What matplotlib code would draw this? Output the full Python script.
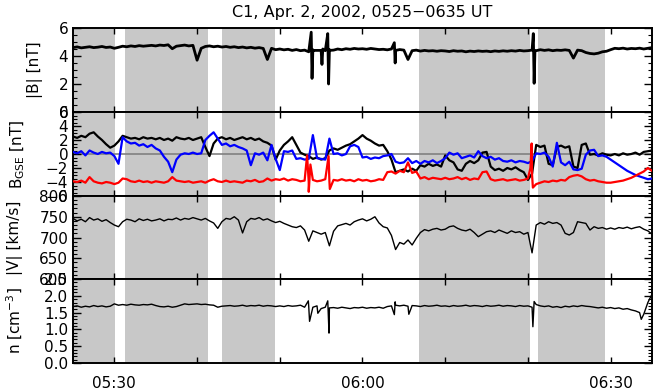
import numpy as np
import matplotlib
matplotlib.use("Agg")
import matplotlib.pyplot as plt
from matplotlib.ticker import MultipleLocator, FixedLocator, FuncFormatter

# time in minutes after 05:00, half-minute samples from 05:25 to 06:35
t_grid = 25 + 0.5 * np.arange(141)

# shaded intervals (minutes after 05:00)
shade_start = [25.0, 31.3, 43.0, 66.8, 81.2]
shade_end = [30.1, 41.3, 49.4, 80.3, 89.3]

bmag = [4.60, 4.65, 4.58, 4.62, 4.66, 4.60, 4.63, 4.68, 4.61, 4.64,
        4.55, 4.62, 4.70, 4.66, 4.72, 4.68, 4.74, 4.70, 4.73, 4.76,
        4.72, 4.78, 4.75, 4.80, 4.52, 4.70, 4.74, 4.78, 4.72, 4.76,
        3.70, 4.55, 4.68, 4.72, 4.66, 4.70, 4.64, 4.68, 4.62, 4.66,
        4.60, 4.64, 4.58, 4.62, 4.56, 4.60, 4.54, 3.75, 4.55, 4.45,
        4.50, 4.44, 4.48, 4.40, 4.46, 4.38, 4.42, 4.30, 4.45, 4.40,
        4.40, 4.38, 4.46, 4.42, 4.50, 4.45, 4.52, 4.48, 4.54, 4.50,
        4.52, 4.48, 4.54, 4.50, 4.46, 4.48, 4.44, 4.50, 4.40, 4.46,
        4.42, 3.75, 4.38, 4.42, 4.35, 4.40, 4.36, 4.38, 4.34, 4.38,
        4.36, 4.32, 4.38, 4.34, 4.36, 4.30, 4.35, 4.32, 4.36, 4.33,
        4.35, 4.31, 4.36, 4.33, 4.37, 4.34, 4.38, 4.35, 4.40, 4.36,
        4.38, 4.42, 4.38, 4.45, 4.40, 4.44, 4.38, 4.42, 4.40, 4.44,
        4.40, 3.85, 4.42, 4.38, 4.25, 4.18, 4.15, 4.20, 4.30, 4.34,
        4.45, 4.55, 4.52, 4.56, 4.50, 4.54, 4.52, 4.56, 4.50, 4.55,
        4.60]
bmag_spike_t = [53.8, 53.9, 54.0, 55.1, 55.2, 55.8, 55.9, 56.0, 63.85, 63.95, 80.65, 80.75, 80.85]
bmag_spike_v = [5.7, 2.4, 4.4, 3.4, 4.5, 5.6, 2.0, 4.4, 4.95, 3.5, 5.6, 2.05, 4.4]

bx = [2.5, 2.3, 2.6, 2.4, 2.9, 3.1, 2.5, 2.0, 1.4, 0.9,
      1.2, 1.8, 2.6, 2.4, 2.2, 2.3, 2.1, 2.4, 2.2, 2.3,
      2.1, 2.3, 2.0, 2.2, 1.9, 2.4, 2.2, 2.1, 2.3, 2.0,
      2.2, 2.4, 1.0, -0.3, 1.5, 2.2, 2.4, 2.1, 2.3, 2.0,
      2.2, 2.4, 2.1, 2.3, 2.0, 2.2, 1.8, 1.6, 1.2, -0.8,
      0.5, 1.3, 1.8, 2.4, 1.3, 0.2, -0.1, -0.3, -0.7, -0.5,
      -0.8, -0.6, 0.5, 0.8, 0.6, 0.9, 1.2, 1.4, 1.8, 2.2,
      2.7, 2.2, 1.9, 1.5, 1.2, 1.3, 0.4, -0.8, -2.6, -2.4,
      -2.2, -2.5, -2.1, -2.4, -1.6, -1.8, -1.4, -1.7, -1.5, -1.8,
      -0.2, -0.9, -1.2, -2.2, -2.4, -1.4, -1.0, -1.3, -0.9, 0.2,
      0.3, -1.8, -2.3, -2.1, -2.4, -2.0, -2.2, -1.9, -2.3, -2.6,
      -3.7, -2.8, 1.3, 1.0, 1.2, -1.4, -1.6, 1.0, 1.2, 0.9,
      1.1, -1.8, -2.0, 1.3, 1.5, -0.1, 0.0, -0.2, 0.1, -0.1,
      -0.2, 0.0, -0.2, 0.1, -0.1, 0.0, 0.2, -0.1, 0.3, 0.4,
      0.5]

by = [0.3, 0.1, 0.4, -0.2, 0.5, 0.2, 0.0, 0.3, 0.1, 0.2,
      -0.3, -1.4, 2.4, 1.8, 1.5, 1.6, 1.2, 1.4, 1.0, 1.3,
      0.8, 0.5, -0.4, -1.1, -2.6, -0.8, -0.1, 0.1, 0.0, 0.2,
      0.0, 0.1, 2.0, 2.6, 3.1, 2.2, 1.3, 1.5, 1.1, 1.3,
      1.0, 0.8, 0.5, -1.6, 0.1, -0.1, 0.2, -0.9, 1.3, -0.7,
      -2.3, 0.4, 0.3, 0.5, -0.7, -0.6, -0.8, -0.7, 2.7, -0.6,
      -0.7, -0.8, 2.2, 0.0, 0.1, -0.2, 0.0, 1.1, 1.3, 1.0,
      -0.5, -0.4, -0.7, -0.5, -0.6, -0.3, -0.2, 0.0, -1.1, -1.3,
      -1.2, -0.6, -1.3, -1.0, -1.4, -1.0, -1.2, -0.9, -1.3, -1.0,
      -0.6, 0.2, -0.1, 0.1, -0.6, -0.4, -0.2, -0.5, 0.4, -0.3,
      -0.6, -0.4, -0.8, -0.6, -1.0, -1.1, -0.9, -1.2, -1.0, -1.1,
      -1.3, -1.0, 0.1, 0.0, 0.2, -0.4, -1.8, 1.6, -1.2, -1.6,
      -1.1, -2.2, -2.3, -2.1, -0.1, 0.5, 0.6, -0.3, -0.2, -0.4,
      -0.8, -1.2, -1.6, -2.0, -2.4, -2.7, -3.0, -3.2, -3.4, -3.6,
      -3.5]

bz = [-3.9, -4.0, -3.8, -4.1, -3.3, -3.9, -4.1, -4.2, -4.0, -4.1,
      -4.3, -4.1, -3.5, -3.6, -3.9, -4.0, -3.8, -4.0, -3.9, -4.1,
      -3.9, -4.0, -4.1, -3.9, -3.3, -3.8, -3.9, -4.0, -3.9, -4.1,
      -4.0, -3.9, -4.1, -3.8, -3.6, -3.9, -4.0, -3.8, -4.0, -3.9,
      -4.0, -4.1, -3.8, -3.9, -3.7, -4.0, -3.9, -3.5, -3.8, -3.6,
      -3.7, -3.5, -3.8, -3.6, -3.7, -3.9, -3.8, -4.0, -3.7, -3.9,
      -3.8, -3.6, -3.9, -3.7, -3.8, -3.6, -3.8, -3.7, -3.9, -3.6,
      -3.8, -3.7, -3.9, -3.8, -3.6, -3.7, -2.6, -2.5, -2.8, -2.4,
      -2.6, -1.2, -2.7, -2.5, -3.5, -3.3, -3.6, -3.4, -3.5, -3.6,
      -3.4, -3.6, -3.5, -3.3, -3.6, -3.4, -3.7, -3.5, -3.6, -2.6,
      -2.5, -3.6, -3.8, -3.7, -3.6, -3.8, -3.7, -3.6, -3.8, -3.7,
      -3.5, -3.0, -4.3, -4.1, -3.9, -4.0, -3.8, -3.9, -3.7, -3.8,
      -3.3, -3.1, -3.0, -3.2, -3.6, -3.8, -3.7, -3.9, -4.0, -4.1,
      -4.1, -4.0, -3.9, -3.8, -3.6, -3.4, -3.1, -2.8, -2.5, -2.0,
      -2.4]
bz_spike_t = [53.3, 53.5, 53.7, 55.9, 56.05, 80.3, 80.45, 80.6]
bz_spike_v = [-0.2, -5.4, -1.5, -0.3, -5.0, -2.0, 1.5, -4.8]

vmag = [746, 740, 744, 738, 748, 742, 745, 739, 743, 736,
        730, 726, 738, 744, 742, 738, 745, 741, 744, 740,
        742, 745, 740, 744, 743, 747, 742, 746, 744, 748,
        745, 742, 746, 740, 735, 722, 738, 746, 744, 750,
        742, 711, 738, 746, 744, 748, 742, 745, 740, 736,
        739, 734, 730, 726, 724, 728, 718, 691, 716, 712,
        708, 712, 680, 715, 728, 731, 734, 730, 738, 742,
        745, 740, 744, 750, 735, 726, 723, 705, 671, 688,
        684, 694, 682, 698, 712, 719, 716, 720, 722, 718,
        720, 726, 728, 722, 718, 716, 720, 712, 702, 708,
        714, 716, 712, 718, 714, 710, 716, 712, 714, 708,
        712, 663, 730, 736, 732, 738, 734, 736, 730, 710,
        706, 712, 738, 736, 734, 718, 726, 722, 724, 720,
        723, 720, 724, 722, 725, 721, 724, 726, 720, 716,
        708]

dens = [1.68, 1.70, 1.66, 1.69, 1.67, 1.71, 1.68, 1.70, 1.67, 1.69,
        1.76, 1.72, 1.74, 1.72, 1.75, 1.73, 1.72, 1.74, 1.73, 1.75,
        1.71, 1.68, 1.67, 1.69, 1.66, 1.68, 1.72, 1.76, 1.74, 1.75,
        1.76, 1.74, 1.75, 1.73, 1.72, 1.66, 1.69, 1.70, 1.71, 1.69,
        1.70, 1.72, 1.69, 1.71, 1.70, 1.72, 1.69, 1.71, 1.70, 1.68,
        1.70, 1.68, 1.71, 1.69, 1.70, 1.72, 1.66, 1.68, 1.66, 1.70,
        1.62, 1.66, 1.64, 1.65, 1.63, 1.66, 1.64, 1.62, 1.65, 1.64,
        1.66, 1.63, 1.65, 1.64, 1.66, 1.63, 1.68, 1.70, 1.72, 1.70,
        1.72, 1.69, 1.71, 1.70, 1.68, 1.71, 1.69, 1.70, 1.72, 1.69,
        1.70, 1.68, 1.71, 1.69, 1.70, 1.72, 1.69, 1.71, 1.70, 1.68,
        1.71, 1.69, 1.70, 1.72, 1.69, 1.71, 1.70, 1.68, 1.71, 1.69,
        1.70, 1.66, 1.74, 1.70, 1.68, 1.70, 1.66, 1.68, 1.65, 1.69,
        1.67, 1.70, 1.68, 1.71, 1.69, 1.68, 1.66, 1.64, 1.66, 1.63,
        1.65, 1.62, 1.64, 1.60, 1.62, 1.58, 1.55, 1.50, 1.45, 1.80,
        2.05]
dens_spike_t = [53.45, 53.6, 54.6, 55.8, 55.95, 63.85, 63.95, 65.6, 80.6, 80.75, 93.7]
dens_spike_v = [1.85, 1.24, 1.48, 1.85, 0.89, 1.44, 1.82, 1.45, 1.08, 1.83, 1.30]


def merged(values, spike_t=(), spike_v=()):
    t = np.concatenate([t_grid, np.array(spike_t, dtype=float)])
    v = np.concatenate([np.array(values, dtype=float), np.array(spike_v, dtype=float)])
    order = np.argsort(t, kind="stable")
    return t[order], v[order]


def time_label(m, pos):
    if int(round(m)) % 30 != 0:
        return ""
    return "%02d:%02d" % (5 + int(m) // 60, int(m) % 60)


plt.rcParams["font.family"] = "DejaVu Sans"
fig = plt.figure(figsize=(6.57, 3.91), dpi=100)

left, width = 73 / 657, 579 / 657
tops = [28, 112, 196, 279]
bottoms = [112, 196, 279, 363]
axes = []
for top, bot in zip(tops, bottoms):
    ax = fig.add_axes([left, 1 - bot / 391, width, (bot - top) / 391])
    axes.append(ax)

ax1, ax2, ax3, ax4 = axes

for ax in axes:
    for s, e in zip(shade_start, shade_end):
        ax.axvspan(s, e, color="#c8c8c8", lw=0, zorder=0)
    ax.set_xlim(25, 95)
    ax.xaxis.set_major_locator(FixedLocator(np.arange(30, 95, 10)))
    ax.xaxis.set_major_formatter(FuncFormatter(time_label))
    ax.tick_params(which="both", direction="in", top=True, right=True, labelsize=11)
    ax.tick_params(which="major", length=6, width=1)
    ax.tick_params(which="minor", length=3, width=0.8)
    ax.tick_params(axis="x", which="major", length=4, pad=9)
    for sp in ax.spines.values():
        sp.set_linewidth(1.4)
    if ax is not ax4:
        ax.tick_params(axis="x", labelbottom=False)

t, v = merged(bmag, bmag_spike_t, bmag_spike_v)
ax1.plot(t, v, color="black", lw=2.0)
ax1.set_ylim(0, 6)
ax1.yaxis.set_major_locator(MultipleLocator(2))
ax1.yaxis.set_minor_locator(MultipleLocator(0.5))
ax1.set_ylabel("|B| [nT]", fontsize=11)
ax1.yaxis.set_label_coords(-0.052, 0.5)

ax2.axhline(0, color="#808080", lw=1.2, zorder=1)
t, v = merged(bx)
ax2.plot(t, v, color="black", lw=1.6, zorder=2)
t, v = merged(by)
ax2.plot(t, v, color="#0000ff", lw=1.6, zorder=3)
t, v = merged(bz, bz_spike_t, bz_spike_v)
ax2.plot(t, v, color="#ff0000", lw=1.6, zorder=4)
ax2.set_ylim(-6, 6)
ax2.yaxis.set_major_locator(MultipleLocator(2))
ax2.yaxis.set_minor_locator(MultipleLocator(0.5))
ax2.set_ylabel("B$_{\\mathregular{GSE}}$ [nT]", fontsize=11)
ax2.yaxis.set_label_coords(-0.079, 0.5)

t, v = merged(vmag)
ax3.plot(t, v, color="black", lw=1.0)
ax3.set_ylim(600, 800)
ax3.yaxis.set_major_locator(MultipleLocator(50))
ax3.yaxis.set_minor_locator(MultipleLocator(10))
ax3.set_ylabel("|V| [km/s]", fontsize=11)
ax3.yaxis.set_label_coords(-0.086, 0.5)

t, v = merged(dens, dens_spike_t, dens_spike_v)
ax4.plot(t, v, color="black", lw=1.0)
ax4.set_ylim(0, 2.5)
ax4.yaxis.set_major_locator(MultipleLocator(0.5))
ax4.yaxis.set_minor_locator(MultipleLocator(0.1))
ax4.yaxis.set_major_formatter(FuncFormatter(lambda y, p: "%.1f" % y))
ax4.set_ylabel("n [cm$^{\\mathregular{-3}}$]", fontsize=11)
ax4.yaxis.set_label_coords(-0.083, 0.5)

fig.text(left + width / 2, 1 - 12 / 391, "C1, Apr. 2, 2002, 0525\u22120635 UT",
         ha="center", va="center", fontsize=11.5)

fig.savefig("out.png", dpi=100)
